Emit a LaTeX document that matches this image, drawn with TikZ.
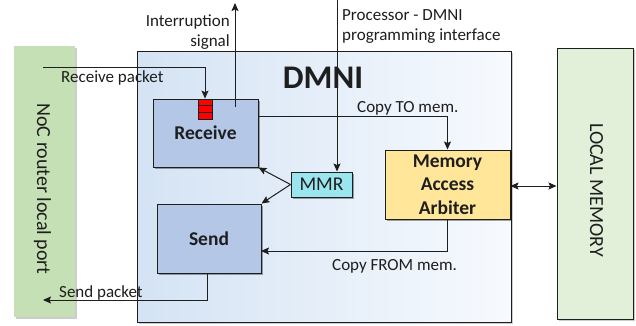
\documentclass[tikz,border=0pt]{standalone}
\usepackage{fontspec}
\setmainfont{Carlito}
\usetikzlibrary{arrows.meta,shadows}
\definecolor{recvblue}{RGB}{180,199,231}
\definecolor{arbyellow}{RGB}{255,230,153}
\definecolor{mmrcyan}{RGB}{155,229,238}
\definecolor{nocgreen}{RGB}{197,224,180}
\definecolor{lmgreen}{RGB}{226,240,217}
\definecolor{dmnil}{RGB}{212,227,244}
\definecolor{dmnir}{RGB}{247,250,254}
\definecolor{ink}{RGB}{30,30,30}
\begin{document}
\begin{tikzpicture}[x=1pt,y=-1pt,
  lbl/.style={inner sep=0pt, font=\fontsize{17}{20}\selectfont, text=ink},
  myshadow/.style={drop shadow={shadow xshift=2pt, shadow yshift=-2pt, opacity=0.35, fill=black}},
  blockbox/.style={draw=ink, line width=1pt, inner sep=0pt, myshadow,
    font=\fontsize{19.5}{23.5}\selectfont\bfseries, text=ink, align=center},
  bufcell/.style={draw=ink, line width=0.8pt, fill=red, minimum width=14pt, minimum height=6.67pt, inner sep=0pt},
  conn/.style={draw=ink, line width=1pt},
  arr/.style={conn, -{Stealth[length=8pt,width=7pt,inset=1.5pt]}},
  darr/.style={conn, {Stealth[length=8pt,width=7pt,inset=1.5pt]}-{Stealth[length=8pt,width=7pt,inset=1.5pt]}}
]
\useasboundingbox (0,0) rectangle (636,325);

% side bars
\node[fill=nocgreen, minimum width=61pt, minimum height=271pt, inner sep=0pt,
  drop shadow={shadow xshift=2pt, shadow yshift=-2pt, opacity=0.2, fill=black}] (noc) at (44.5,181.5) {};
\node[draw=ink, line width=1pt, fill=lmgreen, minimum width=76pt, minimum height=271pt, inner sep=0pt,
  drop shadow={shadow xshift=2pt, shadow yshift=-2pt, opacity=0.2, fill=black}] (lm) at (595,183.5) {};
\node[lbl, font=\fontsize{20}{24}\selectfont, rotate=-90, anchor=base] (nocl) at (37,189) {NoC router local port};
\node[lbl, font=\fontsize{20}{24}\selectfont, rotate=-90, anchor=base] (lml) at (590,190) {LOCAL MEMORY};

% DMNI container
\node[draw=ink, line width=1pt, left color=dmnil, right color=dmnir, minimum width=374pt, minimum height=271pt, inner sep=0pt,
  drop shadow={shadow xshift=2pt, shadow yshift=-2pt, opacity=0.2, fill=black}] (dmni) at (324,186.5) {};
\node[lbl, font=\fontsize{33}{36}\selectfont\bfseries, anchor=base] (dmnil) at (323,88) {DMNI};

% blocks
\node[blockbox, fill=recvblue, minimum width=105pt, minimum height=68pt] (recv) at (205.5,133) {Receive};
\node[blockbox, fill=recvblue, minimum width=104pt, minimum height=69pt] (send) at (209,238.5) {Send};
\node[blockbox, fill=mmrcyan, minimum width=61pt, minimum height=25pt, font=\fontsize{19.5}{23.5}\selectfont] (mmr) at (321.5,184.5) {MMR};
\node[blockbox, fill=arbyellow, minimum width=125pt, minimum height=69pt] (arb) at (447.5,184.5) {Memory\\Access\\Arbiter};

% receive buffer
\node[bufcell] (buf1) at (205,102.33) {};
\node[bufcell] (buf2) at (205,109) {};
\node[bufcell] (buf3) at (205,115.67) {};

% coordinates for free ends
\coordinate (rp) at (43,67);
\coordinate (sp) at (43,300);
\coordinate (int0) at (235,107);
\coordinate (int1) at (235,3);
\coordinate (proc0) at (337,0);
\coordinate (ct) at (258,116);
\coordinate (cf) at (261,251);
\coordinate (sp0) at (207,273);

% connectors
\draw[arr] (rp) -| (buf1.north);
\draw[arr] (int0) -- (int1);
\draw[arr] (proc0) -- (proc0 |- mmr.north);
\draw[arr] (mmr.west) -- (recv.south east);
\draw[arr] (mmr.west) -- (send.north east);
\draw[arr] (ct) -| (arb.north);
\draw[arr] (arb.south) |- (cf);
\draw[arr] (sp0) |- (sp);
\draw[darr] (arb.east |- 0,186) -- (lm.west |- 0,186);

% labels
\node[lbl, anchor=base west] (rpl) at (61,82) {Receive packet};
\node[lbl, anchor=base west] (spl) at (59,297) {Send packet};
\node[lbl, anchor=base west] (ctl) at (357,112) {Copy TO mem.};
\node[lbl, anchor=base west] (cfl) at (332,270) {Copy FROM mem.};
\node[lbl, anchor=base east] (intl1) at (230,26) {Interruption};
\node[lbl, anchor=base east] (intl2) at (230,46) {signal};
\node[lbl, anchor=base west] (procl1) at (342,20) {Processor - DMNI};
\node[lbl, anchor=base west] (procl2) at (342,40) {programming interface};
\end{tikzpicture}
\end{document}
